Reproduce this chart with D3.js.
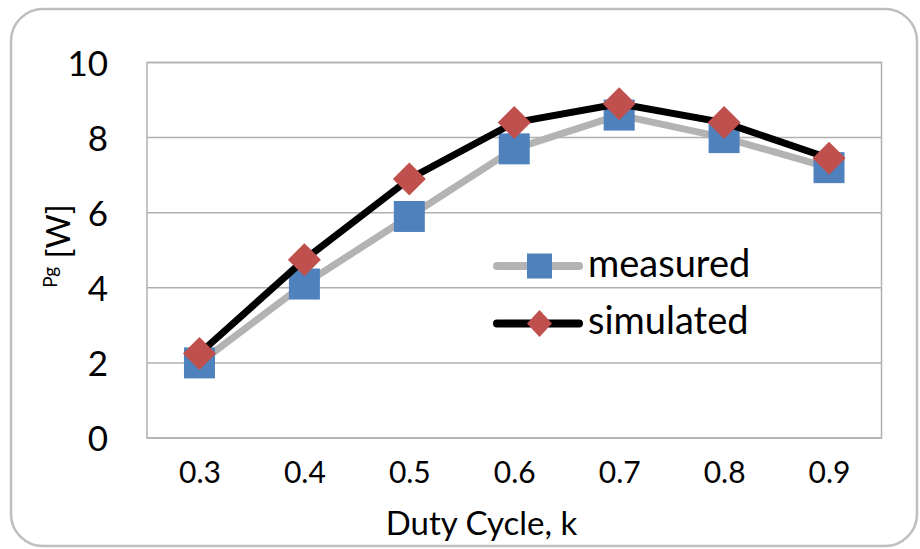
<!DOCTYPE html>
<html>
<head>
<meta charset="utf-8">
<script src="https://cdn.jsdelivr.net/npm/d3@7"></script>
<style>
  html, body { margin: 0; padding: 0; background: #fff; }
  svg { display: block; }
  text { font-family: Lato, "Open Sans", sans-serif; fill: #000; }
</style>
</head>
<body>
<svg id="chart" width="920" height="549"></svg>
<script>
const categories = ["0.3", "0.4", "0.5", "0.6", "0.7", "0.8", "0.9"];
const measured  = [2.0, 4.1, 5.9, 7.7, 8.6, 8.0, 7.2];
const simulated = [2.25, 4.75, 6.9, 8.4, 8.9, 8.4, 7.45];
const yTicks = [0, 2, 4, 6, 8, 10];
const seriesNames = ["measured", "simulated"];

const svg = d3.select("#chart");
const W = 920, H = 549;
const plot = { left: 147, right: 881.5, top: 62.5, bottom: 438 };

// outer rounded frame
svg.append("rect")
  .attr("x", 11).attr("y", 9).attr("width", 906).attr("height", 537)
  .attr("rx", 32).attr("ry", 32)
  .attr("fill", "#fff").attr("stroke", "#bfbfbf").attr("stroke-width", 2.5);

const x = d3.scalePoint().domain(categories).range([plot.left, plot.right]).padding(0.5);
const y = d3.scaleLinear().domain([0, 10]).range([plot.bottom, plot.top]);

// gridlines
svg.append("g").selectAll("line").data(yTicks).join("line")
  .attr("x1", plot.left).attr("x2", plot.right)
  .attr("y1", d => y(d)).attr("y2", d => y(d))
  .attr("stroke", "#b0b0b0").attr("stroke-width", 1.5);

// plot border (left, right)
svg.append("rect")
  .attr("x", plot.left).attr("y", plot.top)
  .attr("width", plot.right - plot.left).attr("height", plot.bottom - plot.top)
  .attr("fill", "none").attr("stroke", "#b0b0b0").attr("stroke-width", 1.5);

// y axis labels
const yAxis = d3.axisLeft(y).tickValues(yTicks).tickSize(0).tickPadding(0).tickFormat(d3.format("d"));
const gy = svg.append("g").attr("transform", `translate(108,0)`).call(yAxis);
gy.select(".domain").remove();
gy.selectAll("text").attr("font-size", 35).attr("font-family", "Lato").attr("fill", "#000").attr("dy", "0.36em");

// x axis labels
const xAxis = d3.axisBottom(x).tickSize(0).tickPadding(0);
const gx = svg.append("g").attr("transform", `translate(0,483)`).call(xAxis);
gx.select(".domain").remove();
gx.selectAll("text").attr("font-size", 30).attr("font-family", "Lato").attr("fill", "#000").attr("dy", 0).attr("y", 0);

// x title
svg.append("text").attr("x", 481.5).attr("y", 535).attr("text-anchor", "middle")
  .attr("font-size", 33).text("Duty Cycle, k");

// y title
const yt = svg.append("text").attr("transform", "translate(70,246) rotate(-90)")
  .attr("text-anchor", "middle");
yt.append("tspan").attr("font-size", 19).attr("dy", -13).text("Pg");
yt.append("tspan").attr("font-size", 33).attr("dy", 13).text(" [W]");

const line = d3.line().x((d, i) => x(categories[i])).y(d => y(d));

// measured series
svg.append("path").datum(measured).attr("d", line)
  .attr("fill", "none").attr("stroke", "#b3b3b3").attr("stroke-width", 7)
  .attr("stroke-linejoin", "round").attr("stroke-linecap", "round");
svg.append("g").selectAll("rect").data(measured).join("rect")
  .attr("x", (d, i) => x(categories[i]) - 15.5).attr("y", d => y(d) - 15.5)
  .attr("width", 31).attr("height", 31).attr("fill", "#4f81bd");

// simulated series
svg.append("path").datum(simulated).attr("d", line)
  .attr("fill", "none").attr("stroke", "#000").attr("stroke-width", 7)
  .attr("stroke-linejoin", "round").attr("stroke-linecap", "round");
const diamond = "M0,-16.5L16.5,0L0,16.5L-16.5,0Z";
svg.append("g").selectAll("path").data(simulated).join("path")
  .attr("transform", (d, i) => `translate(${x(categories[i])},${y(d)})`)
  .attr("d", diamond).attr("fill", "#c0504d");

// legend
const legend = svg.append("g");
const lg = [
  { name: seriesNames[0], y: 266, stroke: "#b3b3b3", marker: "square", fill: "#4f81bd" },
  { name: seriesNames[1], y: 323.5, stroke: "#000", marker: "diamond", fill: "#c0504d" }
];
lg.forEach(item => {
  legend.append("line").attr("x1", 497).attr("x2", 579).attr("y1", item.y).attr("y2", item.y)
    .attr("stroke", item.stroke).attr("stroke-width", 8).attr("stroke-linecap", "round");
  if (item.marker === "square") {
    legend.append("rect").attr("x", 527).attr("y", item.y - 12.5).attr("width", 25).attr("height", 25).attr("fill", item.fill);
  } else {
    legend.append("path").attr("transform", `translate(539.5,${item.y})`)
      .attr("d", "M0,-13.5L12.5,0L0,13.5L-12.5,0Z").attr("fill", item.fill);
  }
  legend.append("text").attr("x", 588).attr("y", item.y + 10.5).attr("font-size", 38).text(item.name);
});
</script>
</body>
</html>
